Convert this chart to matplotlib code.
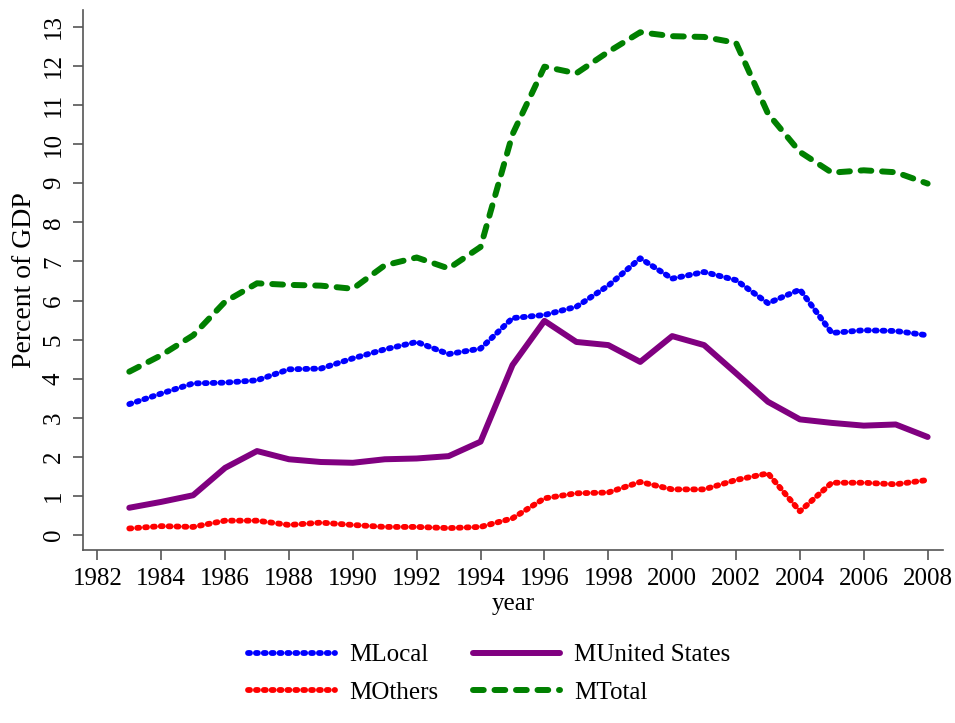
import matplotlib
matplotlib.use("Agg")
import matplotlib.pyplot as plt

years = list(range(1983, 2009))

m_local = [3.35, 3.62, 3.88, 3.90, 3.96, 4.24, 4.26, 4.52, 4.75, 4.94, 4.63, 4.77, 5.55,
           5.63, 5.84, 6.38, 7.08, 6.56, 6.73, 6.52, 5.93, 6.28, 5.17, 5.24, 5.22, 5.11]
m_us = [0.70, 0.85, 1.02, 1.72, 2.15, 1.94, 1.87, 1.85, 1.94, 1.96, 2.02, 2.39, 4.35,
        5.48, 4.94, 4.86, 4.43, 5.09, 4.86, 4.14, 3.41, 2.96, 2.87, 2.80, 2.83, 2.51]
m_others = [0.17, 0.23, 0.21, 0.37, 0.37, 0.26, 0.32, 0.26, 0.21, 0.21, 0.18, 0.21, 0.43,
            0.94, 1.07, 1.09, 1.36, 1.17, 1.17, 1.41, 1.58, 0.61, 1.34, 1.34, 1.30, 1.41]
m_total = [4.18, 4.60, 5.11, 5.97, 6.44, 6.40, 6.38, 6.30, 6.90, 7.10, 6.82, 7.37, 10.25,
           11.98, 11.81, 12.36, 12.86, 12.76, 12.74, 12.59, 10.78, 9.80, 9.27, 9.33, 9.28, 8.99]

x_ticks = list(range(1982, 2009, 2))
y_ticks = list(range(0, 14))

plt.rcParams['font.family'] = ['Liberation Serif', 'DejaVu Serif']

fig = plt.figure(figsize=(9.55, 7.23), dpi=100)
ax = fig.add_axes([0.0869, 0.2393, 0.9005, 0.7469])

dot = (0, (0.35, 1.0))
l_local, = ax.plot(years, m_local, color='#0000ff', lw=4.2, linestyle=dot,
                   dash_capstyle='round', label='MLocal')
l_us, = ax.plot(years, m_us, color='#800080', lw=4.3, solid_capstyle='round',
                solid_joinstyle='round', label='MUnited States')
l_others, = ax.plot(years, m_others, color='#ff0000', lw=4.2, linestyle=dot,
                    dash_capstyle='round', label='MOthers')
l_total, = ax.plot(years, m_total, color='#008000', lw=4.3, linestyle=(0, (1.8, 1.8)),
                   dash_capstyle='round', label='MTotal')

ax.set_xlim(1981.55, 2008.48)
ax.set_ylim(-0.38, 13.43)
ax.set_xticks(x_ticks)
ax.set_yticks(y_ticks)
ax.tick_params(axis='both', labelsize=18, length=7, width=1.2, color='#555555')
ax.tick_params(axis='x', pad=6)
ax.tick_params(axis='y', pad=6)
for lbl in ax.get_yticklabels():
    lbl.set_rotation(90)
    lbl.set_va('center')

for side in ['top', 'right']:
    ax.spines[side].set_visible(False)
for side in ['left', 'bottom']:
    ax.spines[side].set_color('#555555')
    ax.spines[side].set_linewidth(1.2)

ax.set_xlabel('year', fontsize=18, labelpad=2)
ax.set_ylabel('Percent of GDP', fontsize=20, labelpad=4)

# legend fills column by column: put MLocal/MOthers in the first column
fig.legend([l_local, l_others, l_us, l_total],
           ['MLocal', 'MOthers', 'MUnited States', 'MTotal'],
           loc='center', bbox_to_anchor=(0.512, 0.068), ncol=2, frameon=False,
           fontsize=18, handlelength=3.5, handletextpad=0.55, columnspacing=1.4,
           labelspacing=0.6)

fig.savefig('out.png', dpi=100, facecolor='white')
